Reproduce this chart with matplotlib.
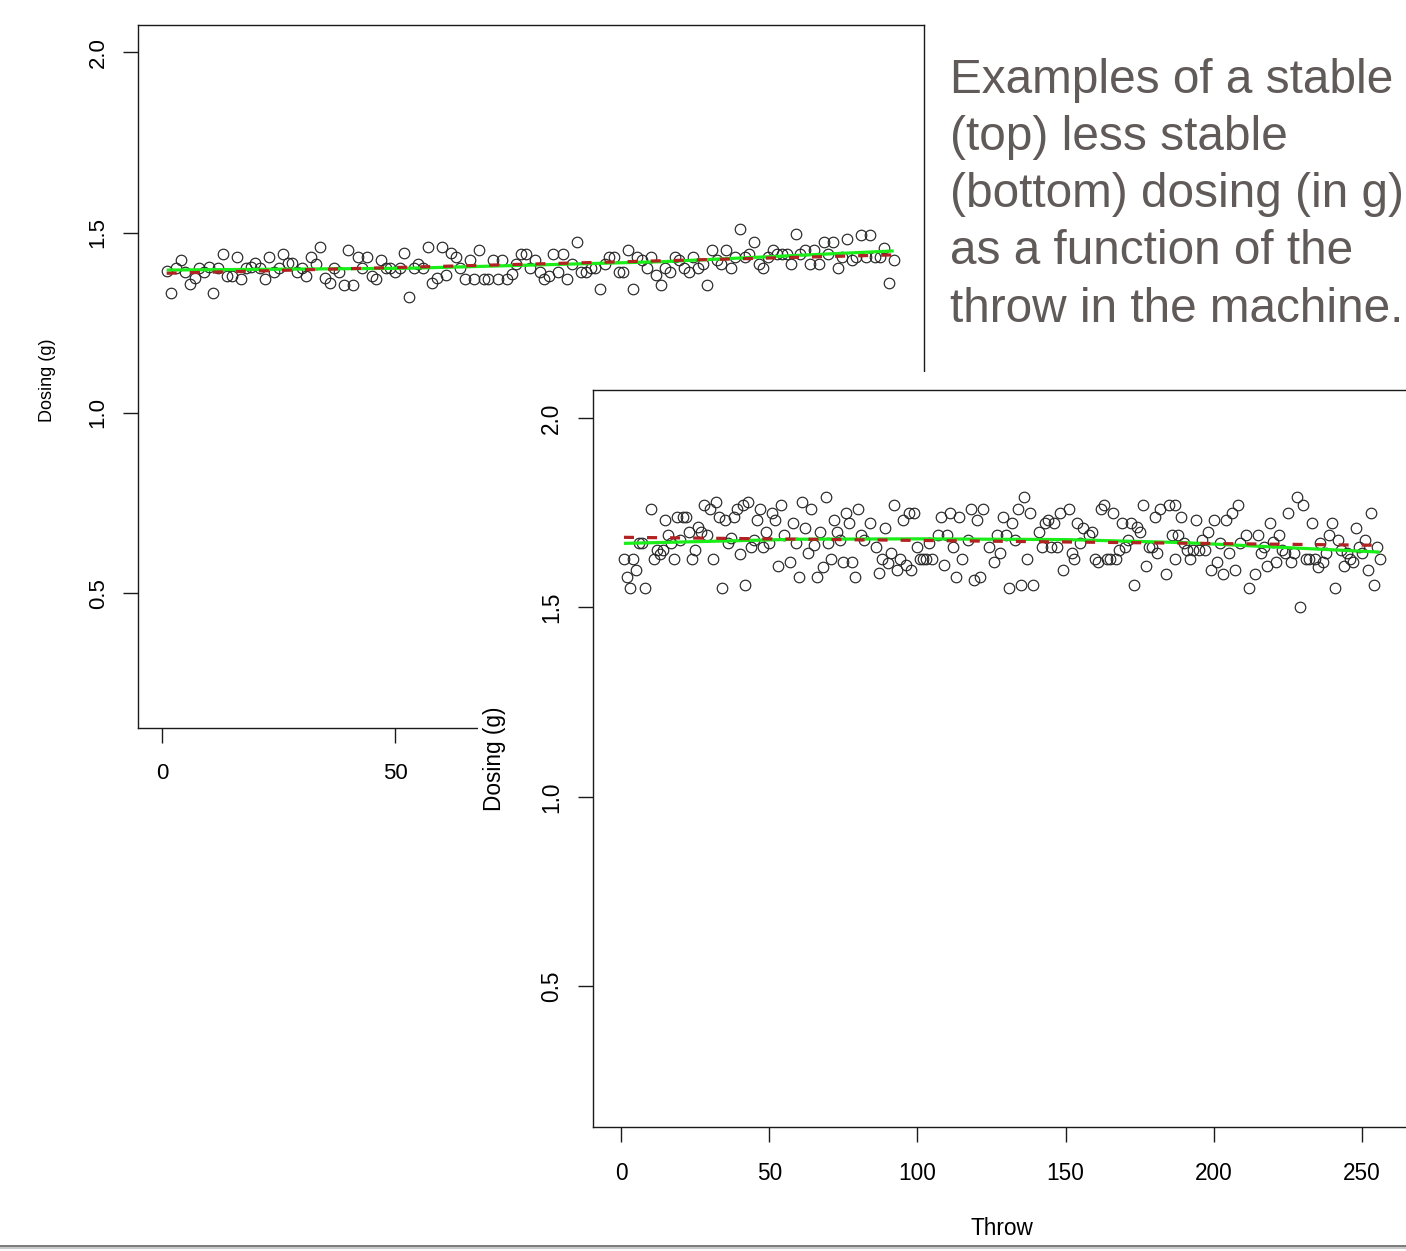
import numpy as np
import matplotlib
matplotlib.use("Agg")
import matplotlib.pyplot as plt
from matplotlib.patches import Rectangle
from matplotlib.lines import Line2D

plt.rcParams['font.family'] = ['Liberation Sans', 'DejaVu Sans']
plt.rcParams['lines.scale_dashes'] = False

# ---------------- data ----------------
# Top (stable) machine: dosing per throw, throws 1..157
top_dose = [
    1.393, 1.331, 1.403, 1.424, 1.391, 1.356, 1.373, 1.403, 1.391, 1.405,
    1.331, 1.403, 1.440, 1.380, 1.380, 1.433, 1.371, 1.403, 1.405, 1.415,
    1.403, 1.371, 1.433, 1.391, 1.403, 1.440, 1.415, 1.415, 1.391, 1.403,
    1.380, 1.433, 1.412, 1.461, 1.373, 1.359, 1.403, 1.390, 1.355, 1.452,
    1.355, 1.433, 1.403, 1.433, 1.380, 1.371, 1.424, 1.403, 1.403, 1.390,
    1.403, 1.442,
    1.322, 1.403, 1.412, 1.403, 1.461, 1.359, 1.373, 1.461, 1.382, 1.442,
    1.433, 1.403, 1.371, 1.424, 1.371, 1.452, 1.371, 1.371, 1.424, 1.371,
    1.424, 1.371, 1.384, 1.412, 1.440, 1.440, 1.403, 1.424, 1.390, 1.371,
    1.380, 1.440, 1.390, 1.440, 1.371, 1.412, 1.475, 1.390, 1.390, 1.403,
    1.403, 1.344, 1.412, 1.433, 1.433, 1.390, 1.390, 1.452, 1.344, 1.433,
    1.424, 1.403,
    1.433, 1.382, 1.355, 1.403, 1.390, 1.433, 1.424, 1.403, 1.390, 1.433,
    1.403, 1.412, 1.355, 1.452, 1.424, 1.412, 1.452, 1.403, 1.433, 1.510,
    1.433, 1.440, 1.473, 1.412, 1.403, 1.433, 1.452, 1.440, 1.440, 1.440,
    1.412, 1.495, 1.440, 1.452, 1.412, 1.452, 1.412, 1.473, 1.440, 1.473,
    1.403, 1.433, 1.482, 1.424, 1.433, 1.493, 1.433, 1.493, 1.433, 1.433,
    1.456, 1.359, 1.424,
]
top_throw = list(range(1, len(top_dose) + 1))

# fitted lines of the top plot (smoother: green, linear model: red dashed)
top_smooth_x = [1, 53, 107, 157]
top_smooth_y = [1.396, 1.401, 1.419, 1.449]
top_lm_x = [1, 157]
top_lm_y = [1.387, 1.438]

# Bottom (less stable) machine
bottom_throw = [
    1, 2, 3, 4, 5, 6, 7, 8, 10, 11, 12, 13, 14, 15, 16, 17, 18, 19, 20, 21,
    22, 23, 24, 25, 26, 27, 28, 29, 30, 31, 32, 33, 34, 35, 36, 37, 38, 39, 40, 41,
    42, 43, 44, 45, 46, 47, 48, 49, 50, 51, 52, 53, 54, 55, 57, 58, 59, 60,
    61, 62, 63, 64, 65, 66, 67, 68, 69, 70, 71, 72, 73, 74, 75, 76, 77, 78, 79, 80,
    81, 82, 84, 86, 87, 88, 89, 90, 91, 92, 93, 94, 95, 96, 97, 98, 99, 100,
    101, 102, 103, 104, 105, 107, 108, 109, 110, 111, 112, 113, 114, 115, 117, 118,
    119, 120, 121, 122, 124,
    126, 127, 128, 129, 130, 131, 132, 133, 134, 135, 136, 137, 138, 139, 141, 142,
    143, 144, 145, 146, 147, 148, 149, 151, 152, 153, 154, 155, 156, 158, 159, 160,
    161, 162, 163, 164, 165, 166, 167, 168, 169, 170, 171, 172, 173, 174, 175, 176,
    177, 178, 179, 180, 181, 182, 184, 185, 186, 187, 188,
    187, 189, 190, 191, 192, 193, 194, 195, 196, 197, 198, 199, 200, 201, 202, 203,
    204, 205, 206, 207, 208, 209, 211, 212, 214, 215, 216, 217, 218, 219, 220, 221,
    222, 223, 224, 225, 226, 227, 228, 229, 230, 231, 232, 233, 234, 235, 236, 237,
    238, 239, 240, 241, 242, 243, 244, 245, 246, 247, 248, 249, 250, 251, 252, 253,
    254, 255, 256,
]
bottom_dose = [
    1.629, 1.581, 1.550, 1.629, 1.599, 1.669, 1.669, 1.550, 1.759, 1.629,
    1.651, 1.641, 1.651, 1.731, 1.691, 1.669, 1.629, 1.739, 1.678, 1.739,
    1.739, 1.700, 1.629, 1.651, 1.713, 1.700, 1.770, 1.691, 1.759, 1.629,
    1.779, 1.739, 1.550, 1.731, 1.669, 1.682, 1.739, 1.759, 1.641, 1.770,
    1.559, 1.779, 1.660, 1.678, 1.731, 1.759, 1.660, 1.700, 1.669, 1.750,
    1.731, 1.609, 1.770, 1.691, 1.621, 1.722, 1.669, 1.581,
    1.779, 1.709, 1.643, 1.759, 1.665, 1.581, 1.700, 1.607, 1.792, 1.669,
    1.629, 1.732, 1.700, 1.678, 1.621, 1.750, 1.722, 1.621, 1.581, 1.759,
    1.691, 1.678, 1.722, 1.660, 1.590, 1.629, 1.709, 1.616, 1.643, 1.770,
    1.599, 1.629, 1.731, 1.612, 1.748, 1.599, 1.748, 1.660, 1.629, 1.629,
    1.629, 1.669, 1.629, 1.691, 1.739, 1.612, 1.691, 1.750, 1.660, 1.581,
    1.739, 1.629, 1.678, 1.759, 1.572, 1.731, 1.581, 1.759, 1.660,
    1.621, 1.691, 1.643, 1.739, 1.691, 1.550, 1.722, 1.678, 1.759, 1.559,
    1.792, 1.629, 1.750, 1.559, 1.700, 1.660, 1.722, 1.732, 1.660, 1.722,
    1.660, 1.750, 1.599, 1.759, 1.643, 1.629, 1.722, 1.669, 1.709, 1.691,
    1.700, 1.629, 1.621, 1.759, 1.770, 1.629, 1.629, 1.750, 1.629, 1.651,
    1.722, 1.660, 1.678, 1.722, 1.559, 1.713, 1.700, 1.770, 1.609, 1.660,
    1.660, 1.739, 1.643, 1.759, 1.587, 1.770, 1.691, 1.629, 1.691,
    1.770, 1.739, 1.669, 1.651, 1.629, 1.651, 1.731, 1.651, 1.678, 1.651,
    1.700, 1.599, 1.731, 1.621, 1.669, 1.587, 1.731, 1.643, 1.748, 1.599,
    1.770, 1.669, 1.691, 1.550, 1.587, 1.691, 1.643, 1.660, 1.609, 1.722,
    1.673, 1.621, 1.691, 1.651, 1.643, 1.750, 1.621, 1.643, 1.792, 1.502,
    1.770, 1.629, 1.629, 1.722, 1.629, 1.607, 1.669, 1.621, 1.643, 1.691,
    1.722, 1.550, 1.678, 1.651, 1.609, 1.643, 1.629, 1.621, 1.709, 1.660,
    1.643, 1.678, 1.599, 1.750, 1.559, 1.660, 1.629,
]
bottom_smooth_x = [1, 60, 100, 150, 190, 256]
bottom_smooth_y = [1.669, 1.680, 1.681, 1.679, 1.671, 1.646]
bottom_lm_x = [1, 256]
bottom_lm_y = [1.685, 1.664]

x_ticks_top = [0, 50, 100, 150]
x_ticks_bottom = [0, 50, 100, 150, 200, 250]
y_ticks = [0.5, 1.0, 1.5, 2.0]
y_ticklabels = ["0.5", "1.0", "1.5", "2.0"]
y_label = "Dosing (g)"
x_label = "Throw"
caption = ["Examples of a stable", "(top) less stable", "(bottom) dosing (in g)",
           "as a function of the", "throw in the machine."]

# ---------------- figure ----------------
W, H = 1406, 1251
fig = plt.figure(figsize=(W / 100, H / 100), dpi=100)
fig.patch.set_facecolor("white")


def px_rect(l, t, r, b):
    return [l / W, 1 - b / H, (r - l) / W, (b - t) / H]


INK = "#1a1a1a"
PT = 0.72  # points per pixel at 100 dpi


def style_axes(ax, xt, tick_fs, xpad, ypad):
    for s in ax.spines.values():
        s.set_linewidth(1.0)
        s.set_color(INK)
    ax.set_xticks(xt)
    ax.set_xticklabels([str(v) for v in xt])
    ax.set_yticks(y_ticks)
    ax.set_yticklabels(y_ticklabels, rotation=90, va="center")
    ax.tick_params(axis="both", direction="out", length=15 * PT, width=1.0,
                   color=INK, labelsize=tick_fs, labelcolor="black")
    ax.tick_params(axis="x", pad=xpad)
    ax.tick_params(axis="y", pad=ypad)


def draw_series(ax, xs, ys, sx, sy, lx, ly):
    ax.plot(xs, ys, linestyle="none", marker="o", markersize=7.6,
            markerfacecolor="none", markeredgecolor="#262626",
            markeredgewidth=0.85, zorder=3)
    ax.plot(sx, sy, color="#19ee19", linewidth=2.3, solid_capstyle="butt", zorder=4)
    ax.plot(lx, ly, color="#b22222", linewidth=2.3, zorder=5,
            linestyle=(0, (7.2, 9.4)), dash_capstyle="butt")


# top plot
ax1 = fig.add_axes(px_rect(138, 25, 924, 728))
ax1.set_zorder(1)
draw_series(ax1, top_throw, top_dose, top_smooth_x, top_smooth_y, top_lm_x, top_lm_y)
ax1.set_xlim(-5.15, 163.5)
ax1.set_ylim(0.127, 2.075)
style_axes(ax1, x_ticks_top, 16, 14.2, 10.3)
ax1.set_ylabel(y_label, fontsize=13)
ax1.yaxis.set_label_coords((56 - 138) / 786, (728 - 380) / 703)

# white cover (margin of the pasted bottom chart)
cover = Rectangle((478 / W, 0), 1 - 478 / W, 1 - 372 / H, transform=fig.transFigure,
                  facecolor="white", edgecolor="none", zorder=2)
fig.add_artist(cover)

# bottom plot
ax2 = fig.add_axes(px_rect(593, 390, 1410, 1127))
ax2.set_zorder(3)
draw_series(ax2, bottom_throw, bottom_dose, bottom_smooth_x, bottom_smooth_y,
            bottom_lm_x, bottom_lm_y)
ax2.set_xlim(-9.45, 266.2)
ax2.set_ylim(0.128, 2.074)
style_axes(ax2, x_ticks_bottom, 16.3, 14.2, 10.8)
ax2.set_ylabel(y_label, fontsize=16.3)
ax2.yaxis.set_label_coords((506 - 593) / 817, 0.5)
ax2.set_xlabel(x_label, fontsize=16.3)
ax2.xaxis.set_label_coords(0.5, -(1217 - 1127) / 737)

# caption text
baselines = [93, 150, 207, 264, 322]
for line, yb in zip(caption, baselines):
    fig.text(950 / W, 1 - yb / H, line, ha="left", va="baseline",
             fontsize=34.4, color="#605a58", zorder=6)

# slide separator line at the bottom
fig.add_artist(Line2D([0, 1], [1 - 1246 / H, 1 - 1246 / H], transform=fig.transFigure,
                      color="#6f6f6f", linewidth=1.3, zorder=7))
fig.add_artist(Line2D([0, 1], [1 - 1248 / H, 1 - 1248 / H], transform=fig.transFigure,
                      color="#c4c4c4", linewidth=1.3, zorder=7))

fig.savefig("out.png", dpi=100, facecolor="white")
